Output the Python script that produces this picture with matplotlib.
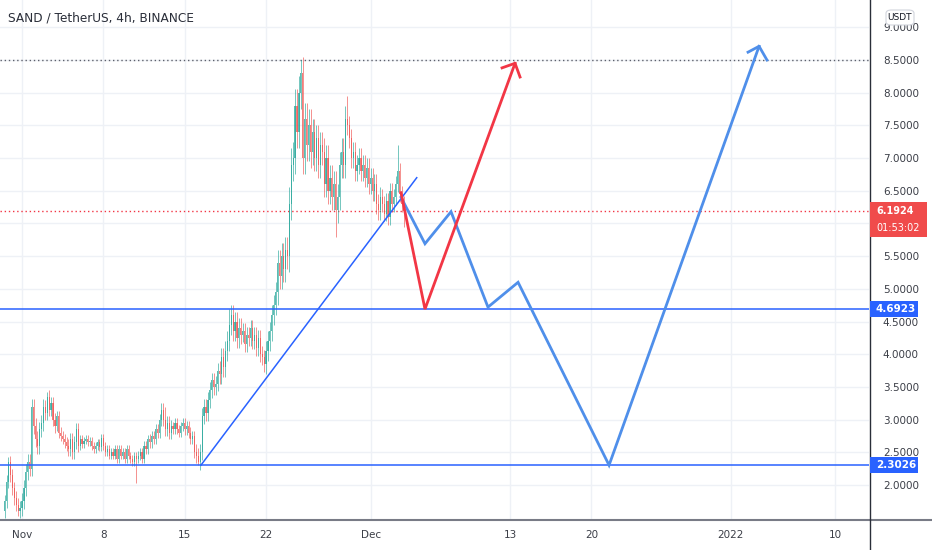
import matplotlib
matplotlib.use("Agg")
import matplotlib.pyplot as plt
from matplotlib.patches import Rectangle, FancyBboxPatch
from matplotlib.lines import Line2D

# 4h candles, first one starts 1.5 days before Nov 1 (x axis = days since Nov 1)
first_day = -1.5
first_open = 1.6
closes = [
    1.75, 2.05, 2.35, 2.15, 1.95, 1.8, 1.7, 1.6, 1.65,
    1.75, 1.95, 2.2, 2.35, 2.25, 3.2,
    2.9, 2.7, 2.6, 2.85, 2.95, 3.2,
    3.1, 3.35, 3.15, 3.25, 3.0, 2.9,
    3.05, 2.8, 2.75, 2.7, 2.65, 2.6,
    2.55, 2.7, 2.5, 2.65, 2.85, 2.6,
    2.7, 2.62, 2.68, 2.7, 2.65, 2.68,
    2.6, 2.55, 2.6, 2.65, 2.58, 2.72,
    2.6, 2.5, 2.55, 2.45, 2.5, 2.45,
    2.55, 2.4, 2.55, 2.45, 2.5, 2.4,
    2.55, 2.45, 2.4, 2.35, 2.45, 2.4,
    2.45, 2.5, 2.4, 2.6, 2.55, 2.7,
    2.65, 2.75, 2.7, 2.85, 2.8, 3.0,
    3.15, 3.0, 2.85, 2.95, 2.8, 2.9,
    2.85, 2.95, 2.85, 2.8, 2.9, 2.95,
    2.85, 2.9, 2.8, 2.7, 2.75, 2.5,
    2.45, 2.35, 2.5, 3.05, 3.2, 3.1,
    3.3, 3.45, 3.6, 3.5, 3.55, 3.75,
    3.7, 3.95, 3.8, 4.05, 4.2, 4.45,
    4.6, 4.35, 4.5, 4.25, 4.4, 4.3,
    4.35, 4.15, 4.3, 4.25, 4.4, 4.2,
    4.3, 4.1, 4.25, 4.0, 3.95, 3.85,
    4.05, 4.2, 4.35, 4.6, 4.75, 4.95,
    5.4, 5.2, 5.5, 5.3, 5.6, 5.5,
    6.3, 6.9, 7.0, 7.8, 7.4, 8.0,
    8.3, 7.0, 7.6, 7.2, 7.5, 7.1,
    7.4, 7.0, 7.3, 6.9, 7.2, 7.1,
    6.6, 7.0, 6.5, 6.7, 6.4, 6.6,
    6.2, 6.4, 6.9, 7.1, 6.9, 7.6,
    7.5, 7.3, 7.0, 7.1, 6.8, 6.9,
    7.0, 6.8, 6.9, 6.7, 6.85, 6.6,
    6.7, 6.5, 6.6, 6.3, 6.2, 6.4,
    6.3, 6.15, 6.35, 6.1, 6.5, 6.3,
    6.4, 6.6, 6.8, 6.45, 6.3, 6.19,
]
# typical wick length per day (first entry covers the 9 candles before Nov 1)
day_wicks = [
    0.10, 0.12, 0.12, 0.10, 0.08, 0.10, 0.06, 0.06, 0.06, 0.06, 0.06, 0.07,
    0.08, 0.10, 0.07, 0.08, 0.12, 0.12, 0.15, 0.15, 0.12, 0.12, 0.15, 0.20,
    0.25, 0.25, 0.20, 0.20, 0.20, 0.15, 0.15, 0.15, 0.12, 0.12,
]
# wicks that stick out further (candle index -> price)
wick_highs = {2: 2.43, 22: 3.42, 83: 3.2, 116: 4.69, 153: 8.5, 177: 7.95, 203: 7.2}
wick_lows = {7: 1.52, 68: 2.03, 100: 2.3, 167: 6.3, 171: 5.8, 206: 5.95}

# drawings
support_levels = [4.6923, 2.3026]
last_price = 6.1924
top_level = 8.5
trend_x = [15.4, 33.97]
trend_y = [2.3026, 6.70]
red_path_x = [32.62, 34.68, 42.43]
red_path_y = [6.47, 4.69, 8.45]
red_head_x = [41.31, 42.43, 42.86]
red_head_y = [8.38, 8.45, 8.24]
blue_path_x = [32.62, 34.68, 36.92, 40.10, 42.69, 50.52, 63.43]
blue_path_y = [6.40, 5.69, 6.18, 4.72, 5.10, 2.3026, 8.71]
blue_head_x = [62.48, 63.43, 64.11]
blue_head_y = [8.62, 8.71, 8.50]

date_ticks = [0, 7, 14, 21, 30, 42, 49, 61, 70]
date_labels = ["Nov", "8", "15", "22", "Dec", "13", "20", "2022", "10"]
price_ticks = [2.0, 2.5, 3.0, 3.5, 4.0, 4.5, 5.0, 5.5, 6.0, 6.5, 7.0, 7.5, 8.0, 8.5, 9.0]
hidden_price_labels = [6.0]  # covered by the last-price badge

W, H = 932, 550
UP = "#26a69a"
DOWN = "#ef5350"
TEXT = "#131722"
BLUE = "#2962ff"
LIGHT_BLUE = "#4f8fea"
RED = "#f23645"


def fx(px):
    return px / W


def fy(py):
    return 1 - py / H


fig = plt.figure(figsize=(W / 100, H / 100), dpi=100)
ax = fig.add_axes([0, fy(520), fx(869), 520 / H])

ax.set_xlim(-1.893, 72.89)
ax.set_ylim(1.464, 9.418)

# candles
opens = [first_open] + closes[:-1]
for i, (o, c) in enumerate(zip(opens, closes)):
    x = first_day + i / 6
    color = UP if c >= o else DOWN
    wick = day_wicks[0] if i < 9 else day_wicks[1 + (i - 9) // 6]
    hi = wick_highs.get(i, max(o, c) + wick)
    lo = wick_lows.get(i, min(o, c) - wick)
    ax.vlines(x, lo, hi, color=color, lw=0.6, alpha=0.75, zorder=3)
    ax.bar(x, max(abs(c - o), 0.01), bottom=min(o, c), width=0.1,
           color=color, alpha=0.75, lw=0, zorder=3)

# horizontal levels
ax.axhline(top_level, color="#5d606b", lw=1, ls=(0, (1, 2)), zorder=2)
ax.axhline(last_price, color=RED, lw=1, ls=(0, (1, 2)), zorder=2)
for level in support_levels:
    ax.axhline(level, color=BLUE, lw=1.1, zorder=4)

# trendline and projected paths
ax.plot(trend_x, trend_y, color=BLUE, lw=1.1, zorder=4)
ax.plot(blue_path_x, blue_path_y, color=LIGHT_BLUE, lw=2, zorder=5,
        solid_joinstyle="miter")
ax.plot(blue_head_x, blue_head_y, color=LIGHT_BLUE, lw=2, zorder=5)
ax.plot(red_path_x, red_path_y, color=RED, lw=2, zorder=6,
        solid_joinstyle="miter")
ax.plot(red_head_x, red_head_y, color=RED, lw=2, zorder=6)

# grid / axes
ax.set_xticks(date_ticks)
ax.set_xticklabels(date_labels)
ax.set_yticks(price_ticks)
ax.set_yticklabels(["" if p in hidden_price_labels else f"{p:.4f}" for p in price_ticks])
ax.yaxis.tick_right()
ax.grid(True, color="#eef1f6", lw=1, zorder=0)
ax.tick_params(axis="y", length=0, pad=10, labelsize=7.5, labelcolor="#3b3e47")
ax.tick_params(axis="x", length=0, pad=7, labelsize=7.5, labelcolor="#3b3e47")
for lbl in ax.get_yticklabels():
    lbl.set_horizontalalignment("left")
for spine in ["top", "left", "bottom", "right"]:
    ax.spines[spine].set_visible(False)

fig.add_artist(Line2D([0, 1], [fy(520), fy(520)], color="#787b86", lw=1.5))
fig.add_artist(Line2D([fx(869.5), fx(869.5)], [0, 1], color="#2a2e39", lw=1))

# title
fig.text(fx(8), fy(18), "SAND / TetherUS, 4h, BINANCE", fontsize=8.7,
         color="#2a2e39", ha="left", va="center")


# price boxes on the right axis
def price_box(y0, y1, x1, color, lines, size):
    fig.add_artist(Rectangle((fx(870), fy(y1)), fx(x1) - fx(870), fy(y0) - fy(y1),
                             transform=fig.transFigure, facecolor=color,
                             edgecolor="none", zorder=10))
    n = len(lines)
    for k, (text, weight) in enumerate(lines):
        yc = y0 + (y1 - y0) * (k + 0.5) / n
        fig.text(fx(876), fy(yc), text, fontsize=size, color="white",
                 fontweight=weight, ha="left", va="center", zorder=11)


price_box(301, 317, 918, BLUE, [("4.6923", "bold")], 7.5)
price_box(457, 473, 918, BLUE, [("2.3026", "bold")], 7.5)
price_box(202, 237, 927, "#f04b4b", [("6.1924", "bold"), ("01:53:02", "normal")], 7)

# currency badge
fig.add_artist(FancyBboxPatch((fx(886), fy(25)), fx(914) - fx(886), fy(10) - fy(25),
                              boxstyle="round,pad=0,rounding_size=0.006",
                              transform=fig.transFigure, facecolor="white",
                              edgecolor="#d1d4dc", lw=0.8, zorder=10))
fig.text(fx(900), fy(17.5), "USDT", fontsize=6.5, color=TEXT,
         ha="center", va="center", zorder=11)

fig.savefig("out.png", dpi=100)
